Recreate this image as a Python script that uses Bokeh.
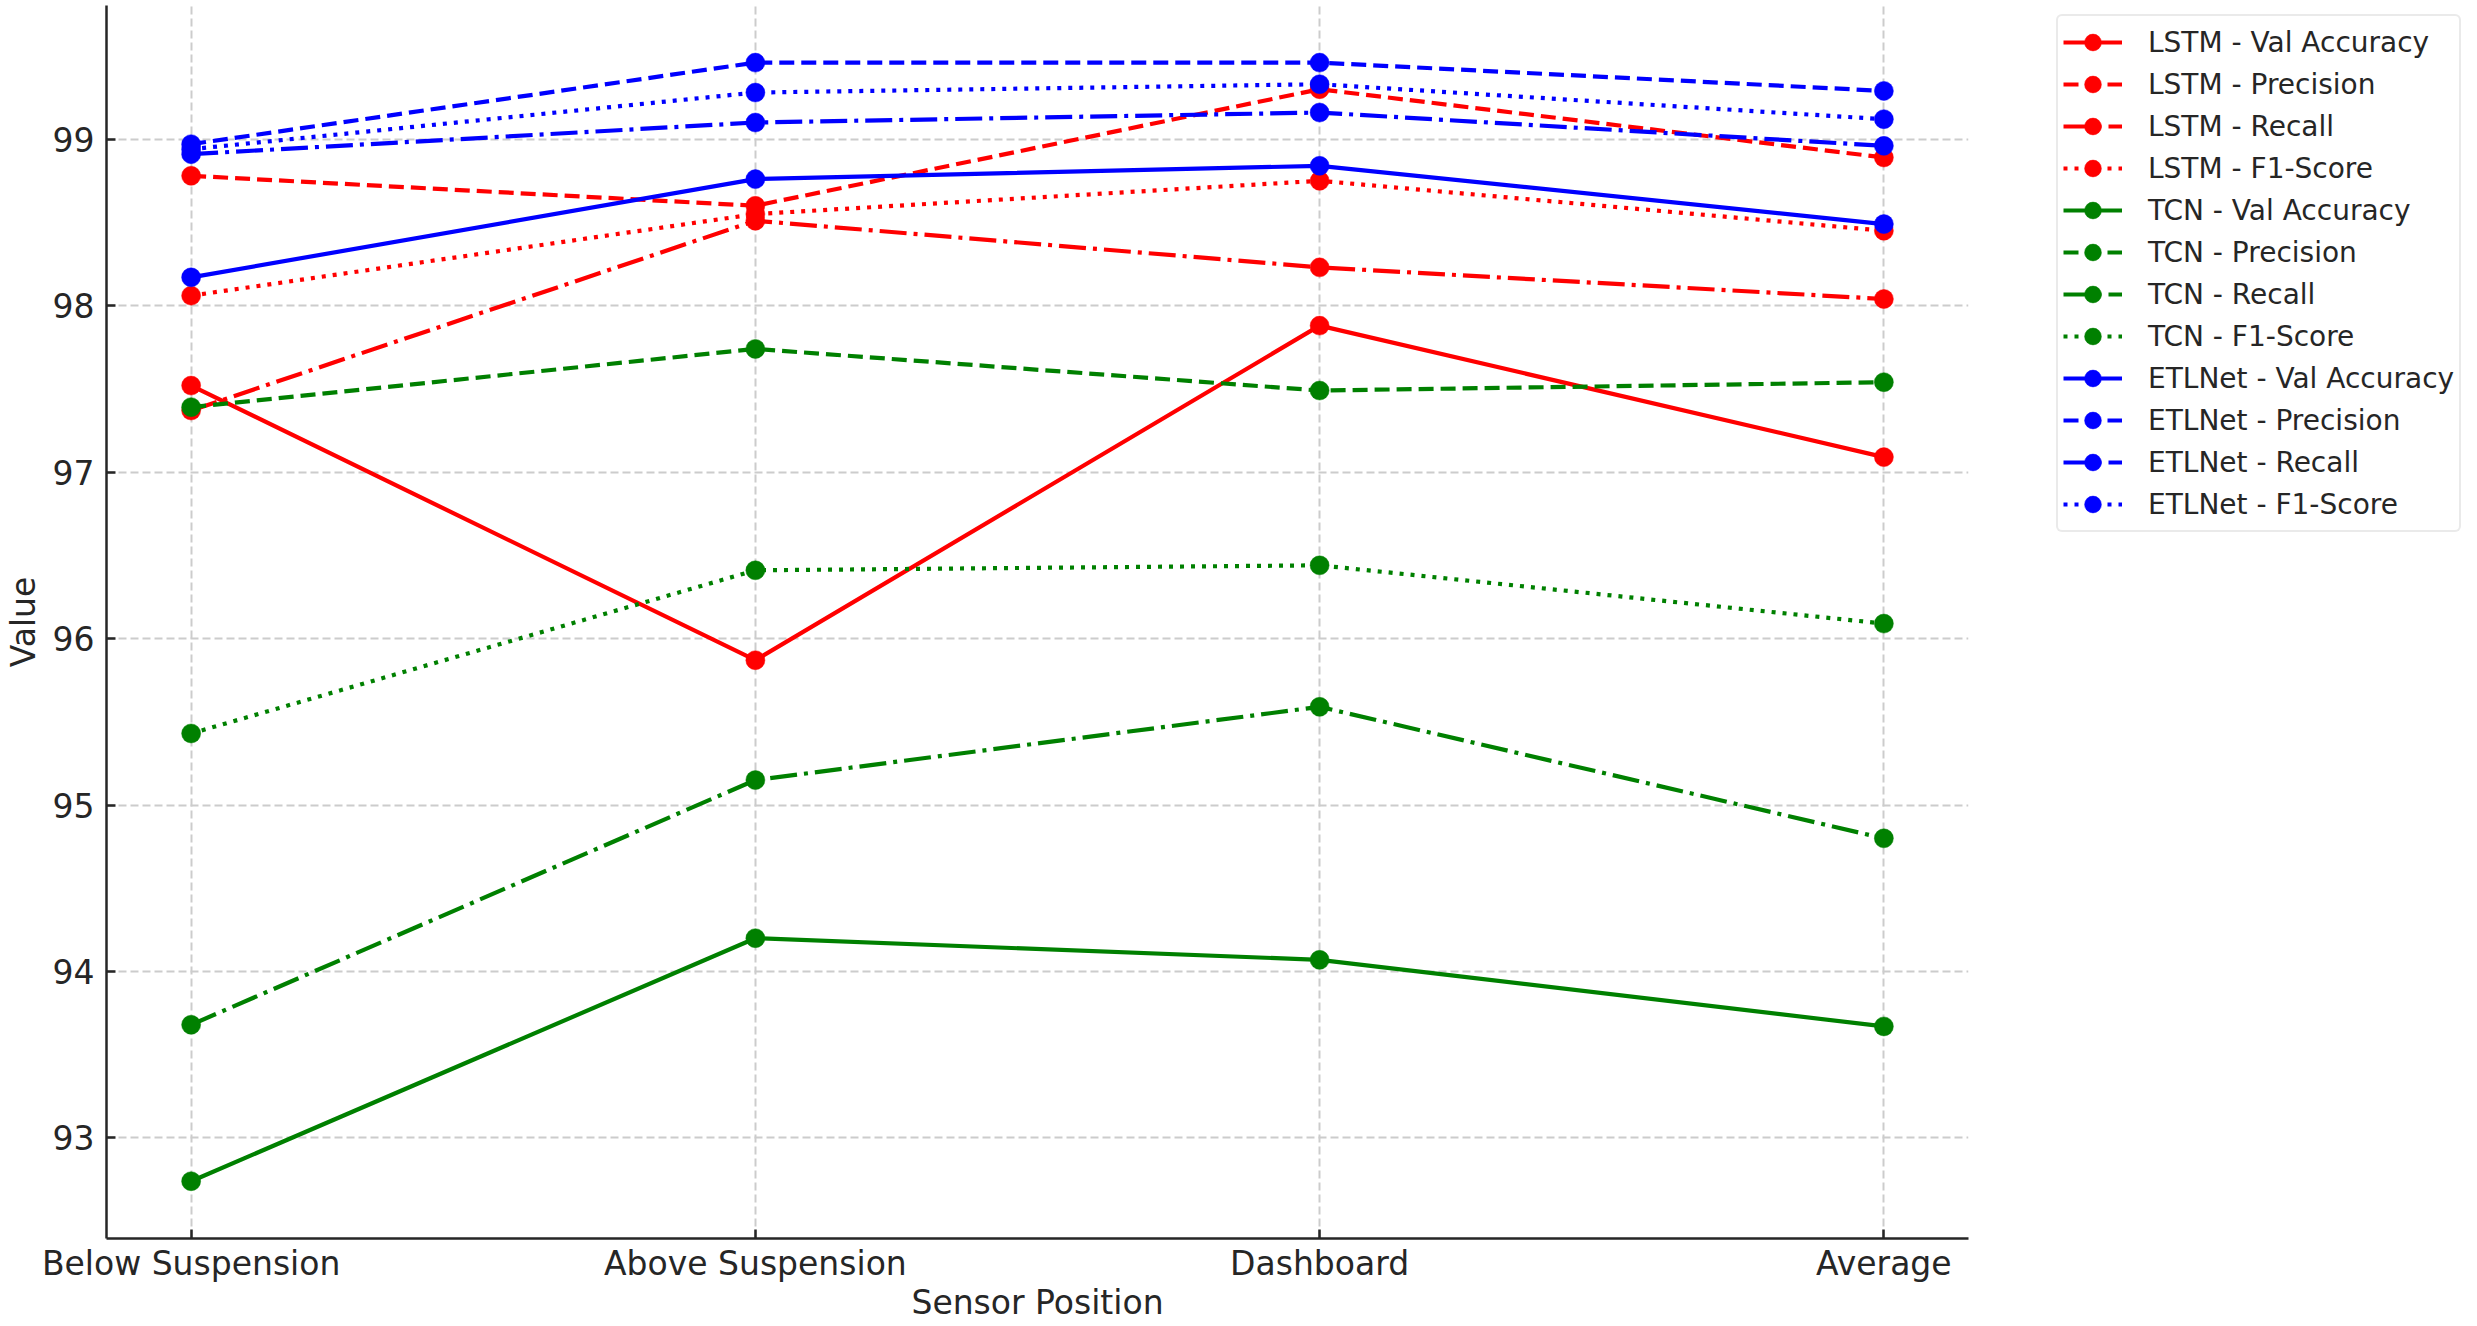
from bokeh.plotting import figure
from bokeh.models import Range1d, FixedTicker, Legend, LegendItem
from bokeh.layouts import row
from bokeh.embed import file_html
from bokeh.resources import INLINE

# ---------------- data ----------------
positions = ["Below Suspension", "Above Suspension", "Dashboard", "Average"]
x_idx = [0, 1, 2, 3]
y_ticks = [93, 94, 95, 96, 97, 98, 99]

lstm_val_acc = [97.52, 95.87, 97.88, 97.09]
lstm_precision = [98.78, 98.60, 99.30, 98.89]
lstm_recall = [97.37, 98.51, 98.23, 98.04]
lstm_f1 = [98.06, 98.55, 98.75, 98.45]

tcn_val_acc = [92.74, 94.20, 94.07, 93.67]
tcn_precision = [97.39, 97.74, 97.49, 97.54]
tcn_recall = [93.68, 95.15, 95.59, 94.80]
tcn_f1 = [95.43, 96.41, 96.44, 96.09]

etl_val_acc = [98.17, 98.76, 98.84, 98.49]
etl_precision = [98.97, 99.46, 99.46, 99.29]
etl_recall = [98.91, 99.10, 99.16, 98.96]
etl_f1 = [98.94, 99.28, 99.33, 99.12]

models = ["LSTM", "TCN", "ETLNet"]
metrics = ["Val Accuracy", "Precision", "Recall", "F1-Score"]
series = {
    "LSTM": [lstm_val_acc, lstm_precision, lstm_recall, lstm_f1],
    "TCN": [tcn_val_acc, tcn_precision, tcn_recall, tcn_f1],
    "ETLNet": [etl_val_acc, etl_precision, etl_recall, etl_f1],
}
model_colors = {"LSTM": "#ff0000", "TCN": "#008000", "ETLNet": "#0000ff"}
metric_dash = {"Val Accuracy": "solid", "Precision": "15 7",
               "Recall": "27 7 4 7", "F1-Score": "4 7"}

FONT = "DejaVu Sans"
TXT = "#262626"
H = 1324
W_MAIN = 1983
W_LEG = 2461 - W_MAIN

# ---------------- main chart ----------------
p = figure(width=W_MAIN, height=H, output_backend="svg", toolbar_location=None,
           x_range=Range1d(-0.15, 3.15), y_range=Range1d(92.396, 99.803),
           min_border_left=100, min_border_right=15, min_border_top=5,
           min_border_bottom=20)
p.outline_line_color = None
p.background_fill_color = "white"
p.border_fill_color = "white"

for g in (p.xgrid, p.ygrid):
    g.grid_line_color = "#cccccc"
    g.grid_line_width = 2
    g.grid_line_dash = "8 4"

p.xaxis.ticker = FixedTicker(ticks=x_idx)
p.xaxis.major_label_overrides = {i: positions[i] for i in x_idx}
p.yaxis.ticker = FixedTicker(ticks=y_ticks)
for ax in (p.xaxis, p.yaxis):
    ax.axis_line_color = TXT
    ax.axis_line_width = 2.5
    ax.major_tick_line_color = TXT
    ax.major_tick_line_width = 2.5
    ax.major_tick_in = 9
    ax.major_tick_out = 0
    ax.minor_tick_line_color = None
    ax.major_label_text_font = FONT
    ax.major_label_text_font_size = "33px"
    ax.major_label_text_color = TXT
    ax.axis_label_text_font = FONT
    ax.axis_label_text_font_size = "33px"
    ax.axis_label_text_font_style = "normal"
    ax.axis_label_text_color = TXT
p.xaxis.axis_label = "Sensor Position"
p.yaxis.axis_label = "Value"
p.xaxis.major_label_standoff = 5
p.xaxis.axis_label_standoff = -3
p.yaxis.major_label_standoff = 12
p.yaxis.axis_label_standoff = 7

# ---------------- legend panel (frame aligned with the chart) ----------------
lp = figure(width=W_LEG, height=H, output_backend="svg", toolbar_location=None,
            x_range=Range1d(0, 1), y_range=Range1d(0, 1),
            x_axis_type=None, y_axis_type=None,
            min_border_left=0, min_border_right=0, min_border_top=0,
            min_border_bottom=0)
lp.outline_line_color = None
lp.xgrid.visible = False
lp.ygrid.visible = False
lp.background_fill_color = "white"
lp.border_fill_color = "white"

items = []
for m in models:
    for k, met in enumerate(metrics):
        vals = series[m][k]
        c = model_colors[m]
        p.line(x_idx, vals, line_color=c, line_width=4.2,
               line_dash=metric_dash[met], line_cap="butt")
        p.scatter(x_idx, vals, size=19, fill_color=c, line_color=c,
                  line_width=0.5, marker="circle")
        # legend proxies: same series, outside the legend panel's visible range
        lr = lp.line(x_idx, vals, line_color=c, line_width=4.2,
                     line_dash=metric_dash[met], line_cap="butt")
        sr = lp.scatter(x_idx, vals, size=19, fill_color=c, line_color=c,
                        line_width=0.5, marker="circle")
        items.append(LegendItem(label=f"{m} - {met}", renderers=[lr, sr]))

legend = Legend(items=items, location=(73, 706))
legend.label_text_font = FONT
legend.label_text_font_size = "28px"
legend.label_text_color = TXT
legend.glyph_width = 59
legend.glyph_height = 42
legend.label_standoff = 26
legend.spacing = 0
legend.padding = 5
legend.margin = 0
legend.border_line_color = "#d6d6d6"
legend.border_line_width = 2.5
legend.background_fill_color = "white"
legend.background_fill_alpha = 1.0
try:
    legend.border_radius = 6
except Exception:
    pass
lp.add_layout(legend, "center")

layout = row(p, lp)
open("out.html", "w").write(file_html(layout, INLINE))
